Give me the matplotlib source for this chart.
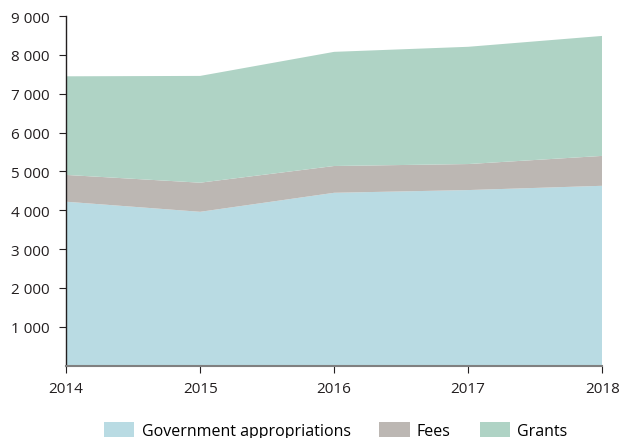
import matplotlib
matplotlib.use("Agg")
import matplotlib.pyplot as plt

years = [2014, 2015, 2016, 2017, 2018]
government = [4220, 3960, 4450, 4520, 4630]
fees = [690, 750, 690, 670, 770]
grants = [2540, 2750, 2940, 3020, 3090]
labels = ["Government appropriations", "Fees", "Grants"]
colors = ["#b9dbe3", "#bcb7b3", "#afd3c5"]

y_ticks = [1000, 2000, 3000, 4000, 5000, 6000, 7000, 8000, 9000]

plt.rcParams["font.family"] = ["Open Sans", "DejaVu Sans"]

fig = plt.figure(figsize=(6.24, 4.39), dpi=100)
ax = fig.add_axes([0.106, 0.165, 0.859, 0.796])

ax.stackplot(years, government, fees, grants, labels=labels, colors=colors, linewidth=0)

ax.set_xlim(2014, 2018)
ax.set_ylim(0, 9000)
ax.set_xticks(years)
ax.set_xticklabels([str(y) for y in years], fontsize=11, color="#231f20")
ax.set_yticks(y_ticks)
ax.set_yticklabels([f"{v:,}".replace(",", " ") for v in y_ticks], fontsize=11, color="#231f20")

for side in ["top", "right"]:
    ax.spines[side].set_visible(False)
ax.spines["left"].set_color("#231f20")
ax.spines["left"].set_linewidth(1.0)
ax.spines["bottom"].set_color("#808080")
ax.spines["bottom"].set_linewidth(1.5)
ax.tick_params(axis="y", length=5, width=0.8, color="#231f20", pad=7)
ax.tick_params(axis="x", length=5, width=0.8, color="#231f20", pad=6)

ax.legend(loc="upper center", bbox_to_anchor=(0.503, -0.12), ncol=3, frameon=False,
          fontsize=11.5, handlelength=1.9, handleheight=1.1, columnspacing=1.8,
          handletextpad=0.45)

fig.savefig("out.png", dpi=100)
